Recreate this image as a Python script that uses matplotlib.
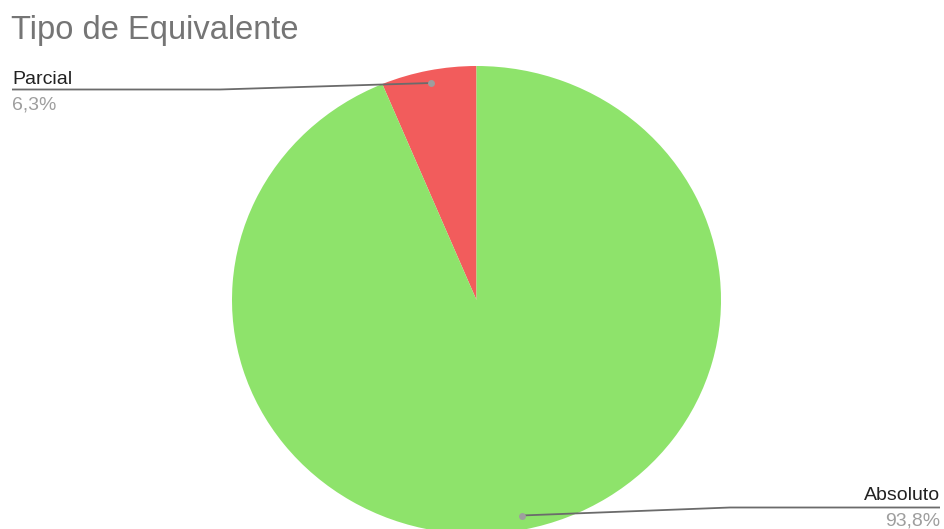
import matplotlib
matplotlib.use("Agg")
import matplotlib.pyplot as plt

# Data
categories = ["Parcial", "Absoluto"]
values = [6.3, 93.8]
value_labels = ["6,3%", "93,8%"]
colors = ["#F25C5C", "#8EE36B"]
title = "Tipo de Equivalente"

W, H = 944, 529
fig = plt.figure(figsize=(W / 100, H / 100), dpi=100)
fig.patch.set_facecolor("white")

# Overlay axes in pixel coordinates (origin top-left) for labels and leaders
ax = fig.add_axes([0, 0, 1, 1])
ax.set_xlim(0, W)
ax.set_ylim(H, 0)
ax.axis("off")

# Pie axes spanning the pie's bounding box (bottom runs past the canvas)
cx, cy, rx, ry = 476.5, 300.0, 244.5, 234.0
pax = fig.add_axes([(cx - rx) / W, (H - (cy + ry)) / H, 2 * rx / W, 2 * ry / H])
pax.pie(values, colors=colors, startangle=90, counterclock=True,
        radius=1.0, wedgeprops=dict(linewidth=0))
pax.set_aspect("auto")
pax.set_xlim(-1, 1)
pax.set_ylim(-1, 1)
pax.axis("off")
pax.set_zorder(0)
ax.set_zorder(1)
ax.patch.set_alpha(0)

font = ["Liberation Sans", "DejaVu Sans"]

ax.text(11, 39, title, fontsize=23.5, color="#757575", family=font,
        ha="left", va="baseline")

line_color = "#6b6b6b"
dot_color = "#9e9e9e"

# Parcial leader
ax.plot([12, 220, 431], [89.5, 89.5, 83], color=line_color, lw=1.3,
        solid_capstyle="butt")
ax.plot([431], [83], "o", color=dot_color, ms=5, mec="none")
ax.text(12, 84, categories[0], fontsize=14, color="#222222", family=font,
        ha="left", va="baseline")
ax.text(12, 110, value_labels[0], fontsize=14, color="#9e9e9e", family=font,
        ha="left", va="baseline")

# Absoluto leader
ax.plot([521.5, 730, 940], [515.5, 507.5, 507.5], color=line_color, lw=1.3,
        solid_capstyle="butt")
ax.plot([521.5], [515.5], "o", color=dot_color, ms=5, mec="none")
ax.text(940, 500, categories[1], fontsize=14, color="#222222", family=font,
        ha="right", va="baseline")
ax.text(940, 526, value_labels[1], fontsize=14, color="#9e9e9e", family=font,
        ha="right", va="baseline")

fig.savefig("out.png", dpi=100, facecolor="white")
